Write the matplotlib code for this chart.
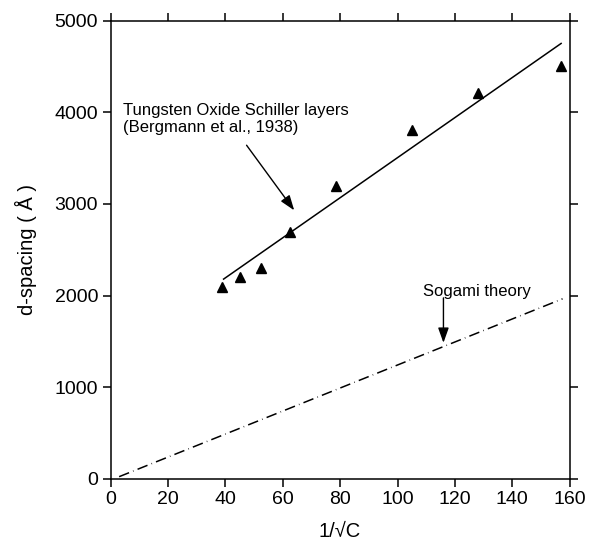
import matplotlib
matplotlib.use("Agg")
import matplotlib.pyplot as plt

# ── Data ─────────────────────────────────────────────────────────────────────
x_obs = [39, 45, 52.5, 62.5, 78.5, 105, 128, 157]
d_obs = [2095, 2205, 2300, 2690, 3195, 3805, 4205, 4500]

x_fit = [39.4, 157]
d_fit = [2180, 4750]

x_sogami = [3, 157.5]
d_sogami = [25, 1965]

x_ticks = [0, 20, 40, 60, 80, 100, 120, 140, 160]
y_ticks = [0, 1000, 2000, 3000, 4000, 5000]

# ── Figure ───────────────────────────────────────────────────────────────────
plt.rcParams["font.family"] = ["Liberation Sans", "DejaVu Sans"]

fig = plt.figure(figsize=(5.91, 5.40), dpi=100, facecolor="white")
ax = fig.add_axes([0.187, 0.113, 0.777, 0.849])

ax.plot(x_fit, d_fit, color="black", lw=1.1)
ax.plot(x_obs, d_obs, ls="none", marker="^", ms=7, color="black")
ax.plot(x_sogami, d_sogami, color="black", lw=1.1,
        ls=(0, (7, 2.8, 0.4, 2.8)))

ax.set_xlim(0, 160)
ax.set_ylim(0, 5000)
ax.set_xticks(x_ticks)
ax.set_yticks(y_ticks)
ax.tick_params(direction="out", length=6, width=1.1, labelsize=14,
               top=True, right=True, pad=3)
for sp in ax.spines.values():
    sp.set_linewidth(1.1)

ax.set_xlabel("1/√C", fontsize=14.5, va="center")
ax.xaxis.set_label_coords(0.5, -0.115)
ax.set_ylabel("d-spacing ( Å )", fontsize=14.5, va="center")
ax.yaxis.set_label_coords(-0.185, 0.5)

arrow = dict(arrowstyle="-|>,head_length=0.7,head_width=0.25", color="black",
             lw=1.0, mutation_scale=13, shrinkA=0, shrinkB=0)

ax.text(4.5, 3930, "Tungsten Oxide Schiller layers\n(Bergmann et al., 1938)",
        fontsize=12, ha="left", va="center", linespacing=1.15)
ax.annotate("", xy=(64, 2930), xytext=(47.4, 3640), arrowprops=arrow)

ax.text(127.5, 2040, "Sogami theory", fontsize=12, ha="center", va="center")
ax.annotate("", xy=(116, 1485), xytext=(116, 1975), arrowprops=arrow)

fig.savefig("out.png", dpi=100)
